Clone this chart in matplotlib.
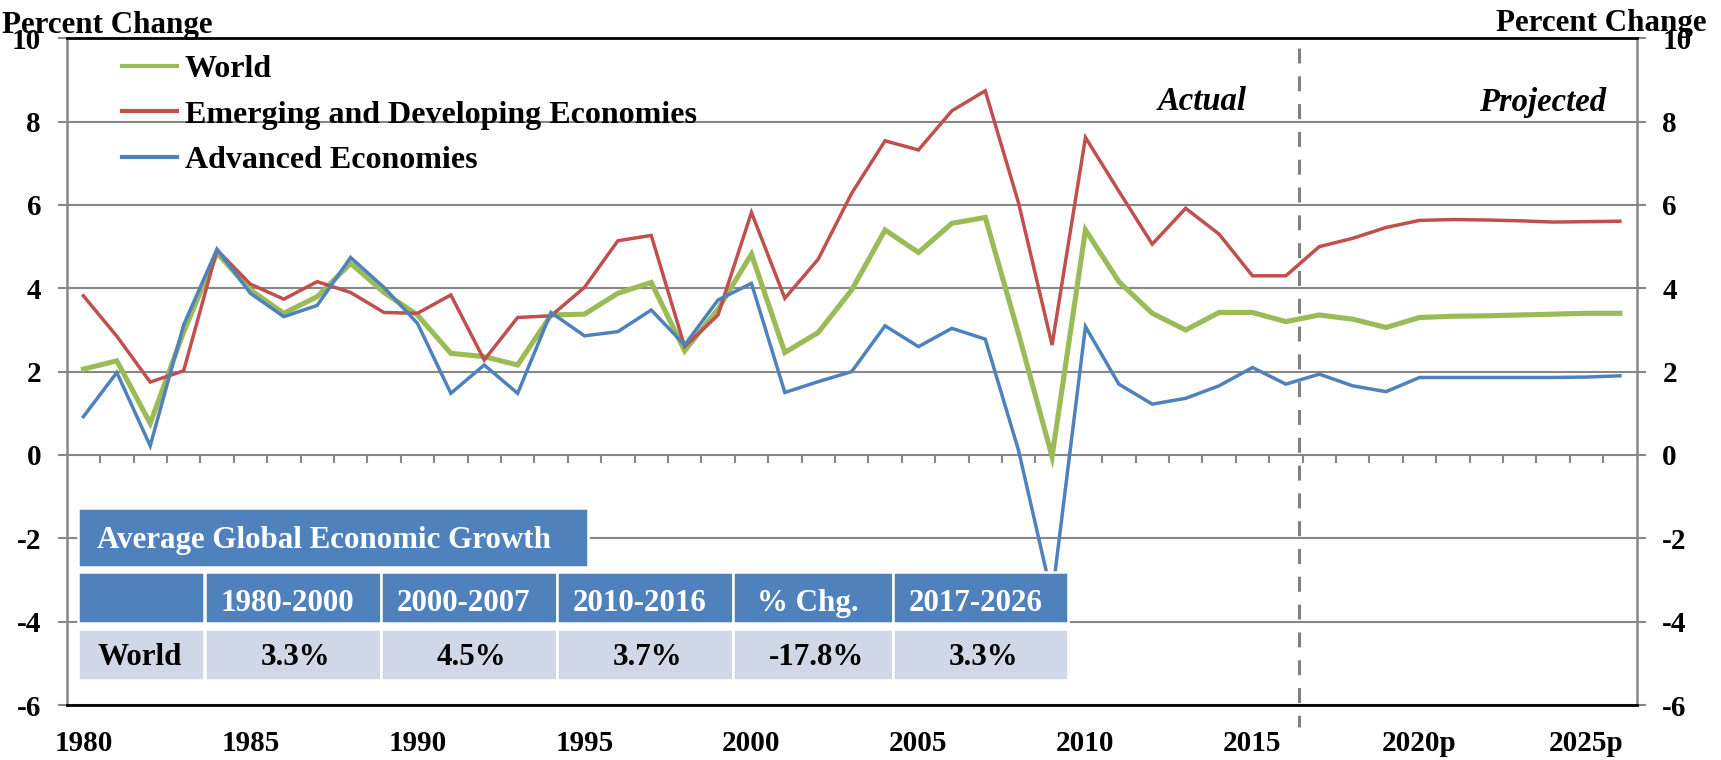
import numpy as np
import matplotlib
matplotlib.use("Agg")
import matplotlib.pyplot as plt
from matplotlib.patches import Rectangle

plt.rcParams['font.family'] = ['Liberation Serif', 'DejaVu Serif']
plt.rcParams['font.weight'] = 'bold'

# ---------------- data ----------------
years = list(range(1980, 2027))
xtick_labels = ['1980', '1985', '1990', '1995', '2000', '2005', '2010', '2015', '2020p', '2025p']

world = [2.06, 2.26, 0.76, 2.95, 4.85, 3.96, 3.40, 3.80, 4.60, 3.90,
         3.36, 2.44, 2.36, 2.16, 3.36, 3.38, 3.88, 4.14, 2.50, 3.50,
         4.82, 2.46, 2.94, 3.96, 5.40, 4.86, 5.56, 5.70, 2.90, -0.04,
         5.40, 4.16, 3.40, 3.00, 3.42, 3.42, 3.20, 3.36, 3.26, 3.06,
         3.30, 3.33, 3.34, 3.36, 3.38, 3.40, 3.40]
emerging = [3.82, 2.85, 1.75, 2.02, 4.92, 4.10, 3.74, 4.16, 3.90, 3.42,
            3.40, 3.84, 2.28, 3.30, 3.34, 4.02, 5.14, 5.27, 2.60, 3.36,
            5.82, 3.76, 4.70, 6.28, 7.54, 7.32, 8.26, 8.74, 6.04, 2.64,
            7.62, 6.33, 5.06, 5.92, 5.30, 4.30, 4.30, 5.00, 5.20, 5.46,
            5.63, 5.65, 5.64, 5.62, 5.59, 5.60, 5.61]
advanced = [0.92, 1.98, 0.22, 3.12, 4.94, 3.88, 3.32, 3.59, 4.74, 4.02,
            3.16, 1.48, 2.16, 1.48, 3.42, 2.86, 2.96, 3.48, 2.64, 3.72,
            4.12, 1.50, 1.76, 2.00, 3.10, 2.60, 3.04, 2.78, 0.10, -3.40,
            3.08, 1.70, 1.22, 1.36, 1.66, 2.10, 1.70, 1.94, 1.66, 1.52,
            1.86, 1.86, 1.86, 1.86, 1.86, 1.87, 1.90]
series_names = ['World', 'Emerging and Developing Economies', 'Advanced Economies']

table_title = 'Average Global Economic Growth'
table_cols = ['', '1980-2000', '2000-2007', '2010-2016', '% Chg.', '2017-2026']
table_row = ['World', '3.3%', '4.5%', '3.7%', '-17.8%', '3.3%']

# ---------------- style ----------------
W, H = 1721, 760
GREEN, RED, BLUE = '#9BBB59', '#C0504D', '#4F81BD'
GRID = '#878787'
HEAD_BLUE = '#4F81BD'
LIGHT = '#D0D8E8'
FS = 21       # tick labels
FS_T = 22.3   # titles / table
FS_L = 23     # legend
FS_A = 23.5   # Actual / Projected

fig = plt.figure(figsize=(W / 100, H / 100), dpi=100)
ax_l, ax_r, ax_t, ax_b = 66.7, 1636.6, 38.3, 705.0
ax = fig.add_axes([ax_l / W, 1 - ax_b / H, (ax_r - ax_l) / W, (ax_b - ax_t) / H])

x = np.arange(len(years))
ax.plot(x, world, color=GREEN, lw=3.7, solid_joinstyle='miter', label=series_names[0], zorder=3)
ax.plot(x, emerging, color=RED, lw=2.5, solid_joinstyle='miter', label=series_names[1], zorder=3)
ax.plot(x, advanced, color=BLUE, lw=2.5, solid_joinstyle='miter', label=series_names[2], zorder=3)

ax.set_xlim(-0.5, len(years) - 0.5)
ax.set_ylim(-6, 10)

yt = list(range(-6, 11, 2))
ax.set_yticks(yt)
ax.set_yticklabels([str(v) for v in yt])
ax.yaxis.grid(True, color=GRID, lw=1.5, zorder=1)
ax.set_axisbelow(True)
ax.tick_params(axis='y', left=True, right=True, labelleft=True, labelright=True,
               length=6.5, width=1.5, color=GRID, pad=12, labelsize=FS)

major_idx = [years.index(int(l.rstrip('p'))) for l in xtick_labels]
ax.set_xticks(major_idx)
ax.set_xticklabels(xtick_labels)
ax.tick_params(axis='x', length=0, pad=18, labelsize=FS)

for side in ['left', 'right']:
    ax.spines[side].set_color(GRID)
    ax.spines[side].set_linewidth(1.8)
for side in ['top', 'bottom']:
    ax.spines[side].set_color('black')
    ax.spines[side].set_linewidth(2.0)

# category tick marks on the zero line
bounds = np.arange(0.5, len(years) - 1, 1.0)
ax.vlines(bounds, 0, -0.2, color=GRID, lw=1.5, zorder=2)

# actual / projected divider
div_x = years.index(2016) + 0.4
ax.plot([div_x, div_x], [9.77, -6.53], color='#808080', lw=2.2,
        ls=(0, (4.9, 4.2)), clip_on=False, zorder=2)
ax.text(years.index(2013) + 0.5, 8.28, 'Actual', style='italic', fontsize=FS_A,
        ha='center', va='baseline')
ax.text(years.index(2023) + 0.7, 8.26, 'Projected', style='italic', fontsize=FS_A,
        ha='center', va='baseline')

leg = ax.legend(loc='upper left', bbox_to_anchor=(0.0352, 0.975), frameon=False,
                fontsize=FS_L, handlelength=1.73, handletextpad=0.23, labelspacing=0.5,
                borderpad=0, borderaxespad=0)
for h in leg.get_lines():
    h.set_linewidth(3.0)

fig.text(2 / W, 1 - 33 / H, 'Percent Change', fontsize=FS_T, ha='left', va='baseline')
fig.text(1706 / W, 1 - 31 / H, 'Percent Change', fontsize=FS_T, ha='right', va='baseline')


# ---------------- summary table ----------------
def fx(px):
    return px / W


def fy(py):
    return 1 - py / H


def cell(x0, y0, x1, y1, color):
    fig.add_artist(Rectangle((fx(x0), fy(y1)), fx(x1) - fx(x0), fy(y0) - fy(y1),
                             transform=fig.transFigure, facecolor=color,
                             edgecolor='white', lw=1.8, zorder=5))


cell(78, 508, 588, 567, HEAD_BLUE)
fig.text(fx(97), fy(548), table_title, color='white', fontsize=FS_T, ha='left',
         va='baseline', zorder=6)

col_edges = [(78, 204), (204.5, 380.5), (380.6, 556.6), (556.7, 732.7), (732.8, 893.3), (893.4, 1068)]
for (c0, c1), head, val in zip(col_edges, table_cols, table_row):
    cell(c0, 572, c1, 623, HEAD_BLUE)
    cell(c0, 629, c1, 680, LIGHT)
    if head:
        fig.text(fx((c0 + c1) / 2 - 5), fy(611), head, color='white', fontsize=FS_T,
                 ha='center', va='baseline', zorder=6)
    if val == table_row[0]:
        fig.text(fx(97), fy(665), val, color='black', fontsize=FS_T, ha='left',
                 va='baseline', zorder=6)
    else:
        fig.text(fx((c0 + c1) / 2 + 3), fy(665), val, color='black', fontsize=FS_T,
                 ha='center', va='baseline', zorder=6)

fig.savefig('out.png', dpi=100)
